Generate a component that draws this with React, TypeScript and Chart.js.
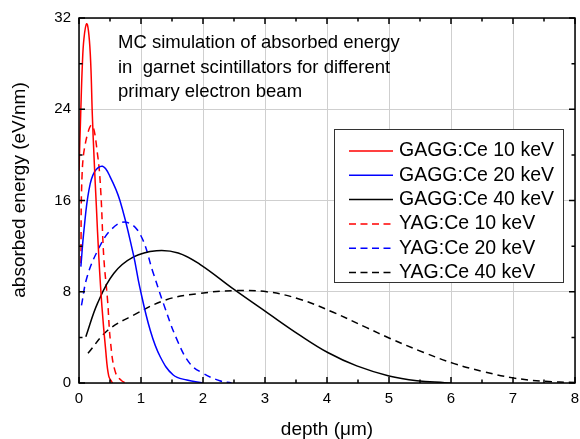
import React, { useEffect, useRef } from "react";
import { Chart, registerables } from "chart.js";

Chart.register(...registerables);

const FONT = "Arial, 'Liberation Sans', sans-serif";

const titleLines = [
  "MC simulation of absorbed energy",
  "in  garnet scintillators for different",
  "primary electron beam",
];
const xTitle = "depth (\u03bcm)";
const yTitle = "absorbed energy (eV/nm)";

const seriesLabels = [
  "GAGG:Ce 10 keV",
  "GAGG:Ce 20 keV",
  "GAGG:Ce 40 keV",
  "YAG:Ce 10 keV",
  "YAG:Ce 20 keV",
  "YAG:Ce 40 keV",
];
const seriesColors = ["#ff0000", "#0000ff", "#000000", "#ff0000", "#0000ff", "#000000"];
const seriesDashed = [false, false, false, true, true, true];

const xMin = 0;
const xMax = 8;
const xStep = 1;
const yMin = 0;
const yMax = 32;
const yStep = 8;

// GAGG:Ce 10 keV
const gagg10X = [0, 0.027, 0.054, 0.08, 0.124, 0.16, 0.19, 0.215, 0.245, 0.28, 0.32, 0.37, 0.43, 0.48, 0.54];
const gagg10Y = [18.6, 23.5, 27.9, 30.2, 31.5, 30.5, 27.9, 23.5, 19.5, 15.5, 11.0, 6.7, 2.9, 0.6, 0];
// GAGG:Ce 20 keV
const gagg20X = [0.03, 0.08, 0.16, 0.25, 0.38, 0.5, 0.66, 0.876, 0.98, 1.15, 1.31, 1.52, 1.74, 2.0];
const gagg20Y = [10.2, 13.4, 16.9, 18.5, 19.0, 18.1, 16.0, 11.3, 8.4, 4.6, 2.3, 0.7, 0.26, 0];
// GAGG:Ce 40 keV
const gagg40X = [0.11, 0.3, 0.56, 0.88, 1.25, 1.6, 1.95, 2.5, 3.04, 3.56, 4.02, 4.48, 5.0, 5.45, 5.9, 6.0];
const gagg40Y = [4.05, 7.0, 9.6, 11.05, 11.6, 11.4, 10.4, 8.2, 6.15, 4.2, 2.65, 1.5, 0.62, 0.2, 0.03, 0];
// YAG:Ce 10 keV
const yag10X = [0.03, 0.05, 0.11, 0.21, 0.3, 0.35, 0.4, 0.46, 0.51, 0.59, 0.7, 0.79];
const yag10Y = [10.5, 18.3, 21.2, 22.6, 20.0, 16.9, 11.0, 7.3, 3.5, 0.9, 0.15, 0];
// YAG:Ce 20 keV
const yag20X = [0.04, 0.13, 0.3, 0.51, 0.75, 0.98, 1.2, 1.36, 1.58, 1.79, 2.0, 2.27, 2.46];
const yag20Y = [6.8, 9.3, 11.6, 13.4, 14.1, 13.1, 9.6, 7.0, 3.8, 1.7, 0.85, 0.2, 0];
// YAG:Ce 40 keV
const yag40X = [0.145, 0.46, 0.88, 1.41, 1.95, 2.5, 3.03, 3.56, 4.1, 4.64, 5.0, 5.55, 6.05, 6.52, 7.0, 7.5, 8.0];
const yag40Y = [2.6, 4.6, 5.95, 7.3, 7.85, 8.1, 8.0, 7.35, 6.2, 4.85, 3.95, 2.7, 1.7, 1.0, 0.45, 0.15, 0.05];

const seriesX = [gagg10X, gagg20X, gagg40X, yag10X, yag20X, yag40X];
const seriesY = [gagg10Y, gagg20Y, gagg40Y, yag10Y, yag20Y, yag40Y];

const decorPlugin = {
  id: "decor",
  afterDraw(chart: any) {
    const ctx = chart.ctx as CanvasRenderingContext2D;
    const { left, right, top, bottom } = chart.chartArea;
    const xs = chart.scales.x;
    const ys = chart.scales.y;
    ctx.save();

    // frame
    ctx.strokeStyle = "#000";
    ctx.lineWidth = 1.5;
    ctx.setLineDash([]);
    ctx.strokeRect(left, top, right - left, bottom - top);

    // ticks (inward)
    ctx.beginPath();
    for (let v = xMin; v <= xMax + 1e-9; v += xStep / 2) {
      const major = Math.abs(v / xStep - Math.round(v / xStep)) < 1e-6;
      const len = major ? 6 : 3.5;
      const px = xs.getPixelForValue(v);
      ctx.moveTo(px, bottom);
      ctx.lineTo(px, bottom - len);
      ctx.moveTo(px, top);
      ctx.lineTo(px, top + len);
    }
    for (let v = yMin; v <= yMax + 1e-9; v += yStep / 2) {
      const major = Math.abs(v / yStep - Math.round(v / yStep)) < 1e-6;
      const len = major ? 6 : 3.5;
      const py = ys.getPixelForValue(v);
      ctx.moveTo(left, py);
      ctx.lineTo(left + len, py);
      ctx.moveTo(right, py);
      ctx.lineTo(right - len, py);
    }
    ctx.stroke();

    // axis titles
    ctx.fillStyle = "#000";
    ctx.font = `19px ${FONT}`;
    ctx.textAlign = "center";
    ctx.textBaseline = "alphabetic";
    ctx.fillText(xTitle, (left + right) / 2, 434.5);
    ctx.save();
    ctx.translate(25.3, 190);
    ctx.rotate(-Math.PI / 2);
    ctx.fillText(yTitle, 0, 0);
    ctx.restore();

    // annotation title
    ctx.font = `18.5px ${FONT}`;
    ctx.textAlign = "left";
    titleLines.forEach((t, i) => {
      ctx.fillText(t, 118, 48.3 + i * 24.2);
    });

    // legend
    const bx = 334, by = 129, bw = 229, bh = 153;
    ctx.fillStyle = "#fff";
    ctx.fillRect(bx, by, bw, bh);
    ctx.strokeStyle = "#333";
    ctx.lineWidth = 1;
    ctx.strokeRect(bx + 0.5, by + 0.5, bw, bh);
    ctx.font = `19.5px ${FONT}`;
    ctx.textBaseline = "middle";
    seriesLabels.forEach((lab, i) => {
      const cy = 151 + i * 24.3;
      ctx.strokeStyle = seriesColors[i];
      ctx.lineWidth = 1.5;
      ctx.setLineDash(seriesDashed[i] ? [7, 4.5] : []);
      ctx.beginPath();
      ctx.moveTo(349, cy);
      ctx.lineTo(393, cy);
      ctx.stroke();
      ctx.setLineDash([]);
      ctx.fillStyle = "#000";
      ctx.fillText(lab, 399, cy);
    });

    ctx.restore();
  },
};

export default function App() {
  const ref = useRef<HTMLCanvasElement | null>(null);

  useEffect(() => {
    if (!ref.current) return;
    const datasets = seriesLabels.map((label, i) => ({
      label,
      data: seriesX[i].map((x, j) => ({ x, y: seriesY[i][j] })),
      borderColor: seriesColors[i],
      backgroundColor: seriesColors[i],
      borderDash: seriesDashed[i] ? [7, 5] : [],
      borderWidth: 1.5,
      pointRadius: 0,
      fill: false,
      tension: 0.4,
    }));
    const chart = new Chart(ref.current, {
      type: "line",
      data: { datasets },
      options: {
        responsive: false,
        animation: false,
        layout: { padding: { top: 18, right: 5, left: 0, bottom: 0 } },
        plugins: { legend: { display: false }, tooltip: { enabled: false } },
        scales: {
          x: {
            type: "linear",
            min: xMin,
            max: xMax,
            ticks: {
              stepSize: xStep,
              color: "#000",
              font: { family: FONT, size: 15 },
              padding: 7,
              maxRotation: 0,
            },
            grid: { color: "#cfcfcf", lineWidth: 1, drawTicks: false },
            border: { display: false },
            afterFit: (s: any) => {
              s.height = 56;
              s.paddingLeft = 0;
              s.paddingRight = 0;
            },
          },
          y: {
            type: "linear",
            min: yMin,
            max: yMax,
            ticks: {
              stepSize: yStep,
              color: "#000",
              font: { family: FONT, size: 15 },
              padding: 8,
            },
            grid: { color: "#cfcfcf", lineWidth: 1, drawTicks: false },
            border: { display: false },
            afterFit: (s: any) => {
              s.width = 79;
              s.paddingTop = 0;
              s.paddingBottom = 0;
            },
          },
        },
      },
      plugins: [decorPlugin],
    });
    return () => chart.destroy();
  }, []);

  return (
    <div style={{ position: "fixed", left: 0, top: 0, width: 580, height: 439, background: "#fff" }}>
      <canvas ref={ref} width={580} height={439} />
    </div>
  );
}
